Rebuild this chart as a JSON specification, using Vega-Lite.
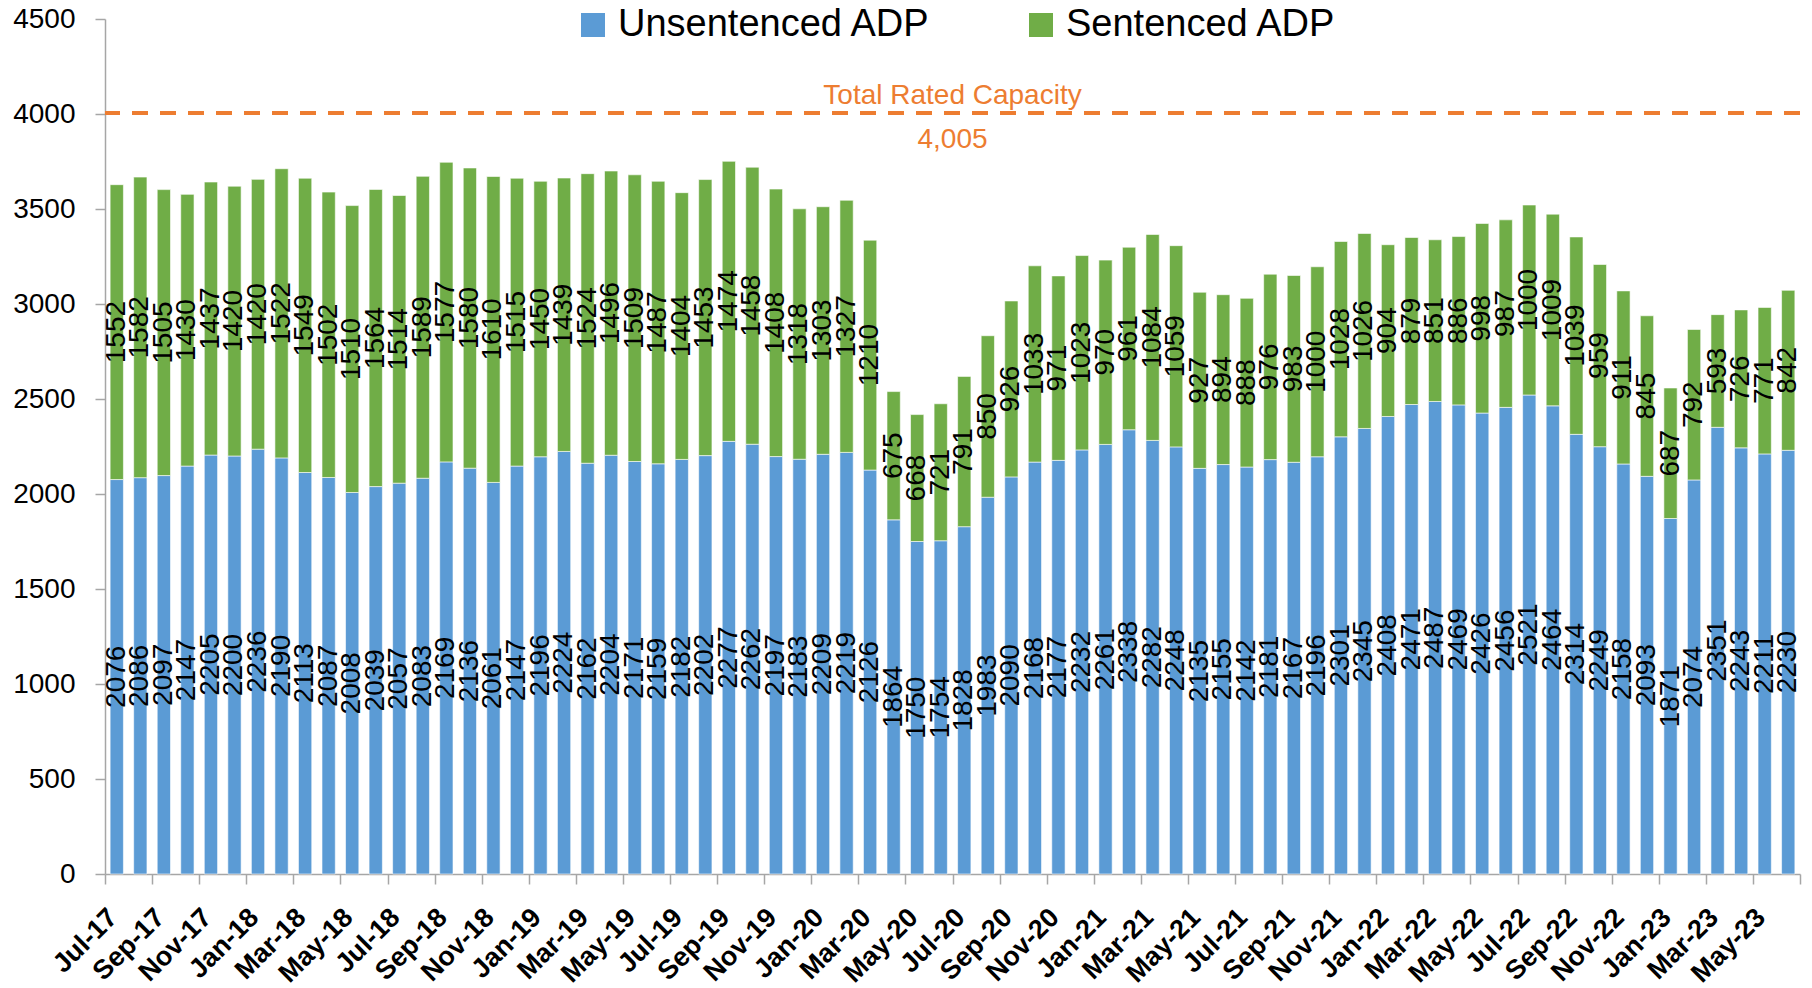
{
  "$schema": "https://vega.github.io/schema/vega-lite/v6.json",
  "width": 1695,
  "height": 855,
  "autosize": "none",
  "padding": {"left": 105, "top": 19, "right": 12, "bottom": 114},
  "background": "white",
  "config": {"view": {"stroke": null}, "font": "Liberation Sans"},
  "datasets": {
    "adp": [
      {"month": "Jul-17", "Unsentenced ADP": 2076, "Sentenced ADP": 1552},
      {"month": "Aug-17", "Unsentenced ADP": 2086, "Sentenced ADP": 1582},
      {"month": "Sep-17", "Unsentenced ADP": 2097, "Sentenced ADP": 1505},
      {"month": "Oct-17", "Unsentenced ADP": 2147, "Sentenced ADP": 1430},
      {"month": "Nov-17", "Unsentenced ADP": 2205, "Sentenced ADP": 1437},
      {"month": "Dec-17", "Unsentenced ADP": 2200, "Sentenced ADP": 1420},
      {"month": "Jan-18", "Unsentenced ADP": 2236, "Sentenced ADP": 1420},
      {"month": "Feb-18", "Unsentenced ADP": 2190, "Sentenced ADP": 1522},
      {"month": "Mar-18", "Unsentenced ADP": 2113, "Sentenced ADP": 1549},
      {"month": "Apr-18", "Unsentenced ADP": 2087, "Sentenced ADP": 1502},
      {"month": "May-18", "Unsentenced ADP": 2008, "Sentenced ADP": 1510},
      {"month": "Jun-18", "Unsentenced ADP": 2039, "Sentenced ADP": 1564},
      {"month": "Jul-18", "Unsentenced ADP": 2057, "Sentenced ADP": 1514},
      {"month": "Aug-18", "Unsentenced ADP": 2083, "Sentenced ADP": 1589},
      {"month": "Sep-18", "Unsentenced ADP": 2169, "Sentenced ADP": 1577},
      {"month": "Oct-18", "Unsentenced ADP": 2136, "Sentenced ADP": 1580},
      {"month": "Nov-18", "Unsentenced ADP": 2061, "Sentenced ADP": 1610},
      {"month": "Dec-18", "Unsentenced ADP": 2147, "Sentenced ADP": 1515},
      {"month": "Jan-19", "Unsentenced ADP": 2196, "Sentenced ADP": 1450},
      {"month": "Feb-19", "Unsentenced ADP": 2224, "Sentenced ADP": 1439},
      {"month": "Mar-19", "Unsentenced ADP": 2162, "Sentenced ADP": 1524},
      {"month": "Apr-19", "Unsentenced ADP": 2204, "Sentenced ADP": 1496},
      {"month": "May-19", "Unsentenced ADP": 2171, "Sentenced ADP": 1509},
      {"month": "Jun-19", "Unsentenced ADP": 2159, "Sentenced ADP": 1487},
      {"month": "Jul-19", "Unsentenced ADP": 2182, "Sentenced ADP": 1404},
      {"month": "Aug-19", "Unsentenced ADP": 2202, "Sentenced ADP": 1453},
      {"month": "Sep-19", "Unsentenced ADP": 2277, "Sentenced ADP": 1474},
      {"month": "Oct-19", "Unsentenced ADP": 2262, "Sentenced ADP": 1458},
      {"month": "Nov-19", "Unsentenced ADP": 2197, "Sentenced ADP": 1408},
      {"month": "Dec-19", "Unsentenced ADP": 2183, "Sentenced ADP": 1318},
      {"month": "Jan-20", "Unsentenced ADP": 2209, "Sentenced ADP": 1303},
      {"month": "Feb-20", "Unsentenced ADP": 2219, "Sentenced ADP": 1327},
      {"month": "Mar-20", "Unsentenced ADP": 2126, "Sentenced ADP": 1210},
      {"month": "Apr-20", "Unsentenced ADP": 1864, "Sentenced ADP": 675},
      {"month": "May-20", "Unsentenced ADP": 1750, "Sentenced ADP": 668},
      {"month": "Jun-20", "Unsentenced ADP": 1754, "Sentenced ADP": 721},
      {"month": "Jul-20", "Unsentenced ADP": 1828, "Sentenced ADP": 791},
      {"month": "Aug-20", "Unsentenced ADP": 1983, "Sentenced ADP": 850},
      {"month": "Sep-20", "Unsentenced ADP": 2090, "Sentenced ADP": 926},
      {"month": "Oct-20", "Unsentenced ADP": 2168, "Sentenced ADP": 1033},
      {"month": "Nov-20", "Unsentenced ADP": 2177, "Sentenced ADP": 971},
      {"month": "Dec-20", "Unsentenced ADP": 2232, "Sentenced ADP": 1023},
      {"month": "Jan-21", "Unsentenced ADP": 2261, "Sentenced ADP": 970},
      {"month": "Feb-21", "Unsentenced ADP": 2338, "Sentenced ADP": 961},
      {"month": "Mar-21", "Unsentenced ADP": 2282, "Sentenced ADP": 1084},
      {"month": "Apr-21", "Unsentenced ADP": 2248, "Sentenced ADP": 1059},
      {"month": "May-21", "Unsentenced ADP": 2135, "Sentenced ADP": 927},
      {"month": "Jun-21", "Unsentenced ADP": 2155, "Sentenced ADP": 894},
      {"month": "Jul-21", "Unsentenced ADP": 2142, "Sentenced ADP": 888},
      {"month": "Aug-21", "Unsentenced ADP": 2181, "Sentenced ADP": 976},
      {"month": "Sep-21", "Unsentenced ADP": 2167, "Sentenced ADP": 983},
      {"month": "Oct-21", "Unsentenced ADP": 2196, "Sentenced ADP": 1000},
      {"month": "Nov-21", "Unsentenced ADP": 2301, "Sentenced ADP": 1028},
      {"month": "Dec-21", "Unsentenced ADP": 2345, "Sentenced ADP": 1026},
      {"month": "Jan-22", "Unsentenced ADP": 2408, "Sentenced ADP": 904},
      {"month": "Feb-22", "Unsentenced ADP": 2471, "Sentenced ADP": 879},
      {"month": "Mar-22", "Unsentenced ADP": 2487, "Sentenced ADP": 851},
      {"month": "Apr-22", "Unsentenced ADP": 2469, "Sentenced ADP": 886},
      {"month": "May-22", "Unsentenced ADP": 2426, "Sentenced ADP": 998},
      {"month": "Jun-22", "Unsentenced ADP": 2456, "Sentenced ADP": 987},
      {"month": "Jul-22", "Unsentenced ADP": 2521, "Sentenced ADP": 1000},
      {"month": "Aug-22", "Unsentenced ADP": 2464, "Sentenced ADP": 1009},
      {"month": "Sep-22", "Unsentenced ADP": 2314, "Sentenced ADP": 1039},
      {"month": "Oct-22", "Unsentenced ADP": 2249, "Sentenced ADP": 959},
      {"month": "Nov-22", "Unsentenced ADP": 2158, "Sentenced ADP": 911},
      {"month": "Dec-22", "Unsentenced ADP": 2093, "Sentenced ADP": 845},
      {"month": "Jan-23", "Unsentenced ADP": 1871, "Sentenced ADP": 687},
      {"month": "Feb-23", "Unsentenced ADP": 2074, "Sentenced ADP": 792},
      {"month": "Mar-23", "Unsentenced ADP": 2351, "Sentenced ADP": 593},
      {"month": "Apr-23", "Unsentenced ADP": 2243, "Sentenced ADP": 726},
      {"month": "May-23", "Unsentenced ADP": 2211, "Sentenced ADP": 771},
      {"month": "Jun-23", "Unsentenced ADP": 2230, "Sentenced ADP": 842}
    ],
    "cap": [{"label": "Total Rated Capacity", "value": 4005}]
  },
  "layer": [
    {
      "data": {"name": "adp"},
      "transform": [{"fold": ["Unsentenced ADP", "Sentenced ADP"], "as": ["type", "value"]}],
      "mark": {"type": "bar", "width": {"band": 0.565}, "stroke": "#ffffff", "strokeWidth": 0.6},
      "encoding": {
        "x": {
          "field": "month", "type": "ordinal", "sort": null, "title": null,
          "scale": {"paddingInner": 0, "paddingOuter": 0},
          "axis": {
            "tickBand": "extent",
            "labelAngle": -45,
            "labelAlign": "right",
            "labelBaseline": "middle",
            "labelFontSize": 27,
            "labelFontWeight": "bold",
            "labelColor": "#000000",
            "labelPadding": 29,
            "labelOffset": -4,
            "labelOverlap": false,
            "labelExpr": "isString(datum.value) && indexof(['Jan','Mar','May','Jul','Sep','Nov'], slice(datum.value, 0, 3)) >= 0 ? datum.value : ''",
            "tickSize": 10,
            "tickWidth": 1.5,
            "tickColor": "#A6A6A6",
            "tickOpacity": {"condition": {"test": "!isString(datum.value) || indexof(['Feb','Apr','Jun','Aug','Oct','Dec'], slice(datum.value, 0, 3)) >= 0", "value": 1}, "value": 0},
            "domainColor": "#A6A6A6",
            "domainWidth": 1.5
          }
        },
        "y": {
          "field": "value", "type": "quantitative", "stack": "zero", "title": null,
          "scale": {"domain": [0, 4500], "nice": false},
          "axis": {
            "values": [0, 500, 1000, 1500, 2000, 2500, 3000, 3500, 4000, 4500],
            "format": "d",
            "grid": false,
            "labelFontSize": 28,
            "labelColor": "#000000",
            "labelPadding": 20,
            "tickSize": 10,
            "tickWidth": 1.5,
            "tickColor": "#A6A6A6",
            "domainColor": "#A6A6A6",
            "domainWidth": 1.5
          }
        },
        "color": {
          "field": "type", "type": "nominal",
          "scale": {"domain": ["Unsentenced ADP", "Sentenced ADP"], "range": ["#5B9BD5", "#70AD47"]},
          "legend": {
            "orient": "none", "legendX": 469, "legendY": -13, "direction": "horizontal",
            "title": null, "symbolType": "square", "symbolSize": 576, "symbolStrokeWidth": 0,
            "labelFontSize": 38, "labelColor": "#000000", "labelOffset": 6, "columnPadding": 91,
            "padding": 0, "labelLimit": 0
          }
        },
        "order": {"field": "type", "sort": "descending"}
      }
    },
    {
      "data": {"name": "adp"},
      "transform": [
        {"fold": ["Unsentenced ADP", "Sentenced ADP"], "as": ["type", "value"]},
        {"stack": "value", "groupby": ["month"], "sort": [{"field": "type", "order": "descending"}], "as": ["v0", "v1"]},
        {"calculate": "(datum.v0 + datum.v1) / 2", "as": "mid"}
      ],
      "mark": {"type": "text", "angle": 270, "fontSize": 28, "color": "#000000", "align": "center", "baseline": "middle"},
      "encoding": {
        "x": {"field": "month", "type": "ordinal", "sort": null, "title": null},
        "y": {"field": "mid", "type": "quantitative", "title": null},
        "text": {"field": "value", "type": "quantitative"}
      }
    },
    {
      "data": {"name": "cap"},
      "mark": {"type": "rule", "color": "#ED7D31", "strokeWidth": 4, "strokeDash": [16, 12]},
      "encoding": {"y": {"field": "value", "type": "quantitative", "title": null}}
    },
    {
      "data": {"name": "cap"},
      "mark": {"type": "text", "color": "#ED7D31", "fontSize": 28, "align": "center", "baseline": "middle", "dy": -17},
      "encoding": {
        "x": {"datum": "Jul-20", "type": "ordinal", "bandPosition": 0},
        "y": {"field": "value", "type": "quantitative", "title": null},
        "text": {"field": "label", "type": "nominal"}
      }
    },
    {
      "data": {"name": "cap"},
      "mark": {"type": "text", "color": "#ED7D31", "fontSize": 28, "align": "center", "baseline": "middle", "dy": 27},
      "encoding": {
        "x": {"datum": "Jul-20", "type": "ordinal", "bandPosition": 0},
        "y": {"field": "value", "type": "quantitative", "title": null},
        "text": {"field": "value", "type": "quantitative", "format": ","}
      }
    }
  ]
}
